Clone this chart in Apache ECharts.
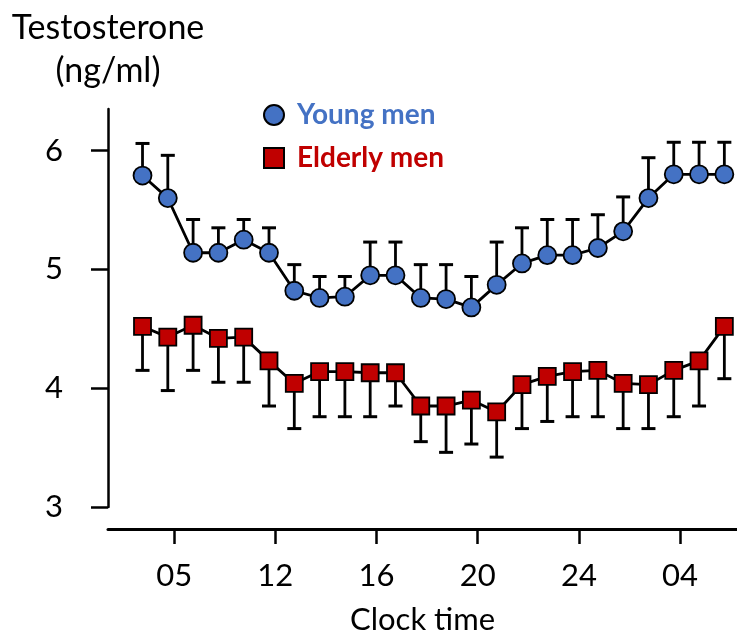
<!DOCTYPE html>
<html>
<head>
<meta charset="utf-8">
<style>
  html, body { margin: 0; padding: 0; background: #fff; }
  .chart { width: 737px; height: 633px; }
</style>
<script src="https://cdn.jsdelivr.net/npm/echarts@6/dist/echarts.min.js"></script>
</head>
<body>
<div class="chart"></div>
<script>
// 数据
var hours = [6.75, 7.75, 8.75, 9.75, 10.75, 11.75, 12.75, 13.75, 14.75, 15.75, 16.75, 17.75,
             18.75, 19.75, 20.75, 21.75, 22.75, 23.75, 24.75, 25.75, 26.75, 27.75, 28.75, 29.75];
var youngMean = [5.79, 5.60, 5.14, 5.14, 5.25, 5.14, 4.82, 4.76, 4.77, 4.95, 4.95, 4.76,
                 4.75, 4.68, 4.87, 5.05, 5.12, 5.12, 5.18, 5.32, 5.60, 5.80, 5.80, 5.80];
var youngUpper = [6.06, 5.96, 5.42, 5.35, 5.42, 5.35, 5.04, 4.94, 4.94, 5.23, 5.23, 5.04,
                  5.04, 4.94, 5.23, 5.35, 5.42, 5.42, 5.46, 5.61, 5.94, 6.07, 6.07, 6.07];
var elderlyMean = [4.52, 4.43, 4.53, 4.42, 4.43, 4.23, 4.04, 4.14, 4.14, 4.13, 4.13, 3.85,
                   3.85, 3.90, 3.80, 4.03, 4.10, 4.14, 4.15, 4.04, 4.03, 4.15, 4.23, 4.52];
var elderlyLower = [4.15, 3.98, 4.15, 4.05, 4.05, 3.85, 3.66, 3.76, 3.76, 3.76, 3.85, 3.55,
                    3.46, 3.53, 3.42, 3.66, 3.72, 3.76, 3.76, 3.66, 3.66, 3.76, 3.85, 4.08];
var xTickValues = [8, 12, 16, 20, 24, 28];
var xTickLabels = ["05", "12", "16", "20", "24", "04"];
var yTickValues = [3, 4, 5, 6];

(function() {
  var myChart = echarts.init(document.querySelector(".chart"));
  var font = "Lato";

  function pairs(xs, ys) {
    return xs.map(function(x, i) { return [x, ys[i]]; });
  }
  function bars(xs, from, to) {
    return xs.map(function(x, i) { return [x, from[i], to[i]]; });
  }

  // 误差线: 竖线 + 端帽
  function renderBar(params, api) {
    var p0 = api.coord([api.value(0), api.value(1)]);
    var p1 = api.coord([api.value(0), api.value(2)]);
    var hw = 7;
    return {
      type: "group",
      children: [
        { type: "line", shape: { x1: p0[0], y1: p0[1], x2: p1[0], y2: p1[1] },
          style: { stroke: "#000", lineWidth: 2.8 } },
        { type: "line", shape: { x1: p1[0] - hw, y1: p1[1], x2: p1[0] + hw, y2: p1[1] },
          style: { stroke: "#000", lineWidth: 3 } }
      ]
    };
  }

  var option = {
    animation: false,
    grid: { left: 108, right: 0, top: 109, bottom: 126, containLabel: false, outerBoundsMode: "none" },
    legend: {
      orient: "vertical",
      left: 258,
      top: 96,
      itemWidth: 20,
      itemHeight: 20,
      itemGap: 15,
      textStyle: { fontFamily: font, fontWeight: "bold", fontSize: 28, padding: [0, 0, 0, 8] },
      data: [
        { name: "Young men", icon: "circle", textStyle: { color: "#4472C4" } },
        { name: "Elderly men", icon: "rect", textStyle: { color: "#C00000" } }
      ]
    },
    xAxis: {
      type: "value",
      min: 5.386,
      max: 30.25,
      offset: 22,
      name: "Clock time",
      nameLocation: "middle",
      nameGap: 75,
      nameTextStyle: { fontFamily: font, fontSize: 31, color: "#000" },
      splitLine: { show: false },
      axisLine: { lineStyle: { color: "#000", width: 3 } },
      axisTick: { customValues: xTickValues, length: 15, lineStyle: { color: "#000", width: 2.5 } },
      axisLabel: {
        customValues: xTickValues,
        margin: 31,
        fontFamily: font,
        fontSize: 31,
        color: "#000",
        formatter: function(v) { return xTickLabels[xTickValues.indexOf(v)]; }
      }
    },
    yAxis: {
      type: "value",
      min: 3,
      max: 6.35,
      name: "Testosterone\n(ng/ml)",
      nameLocation: "end",
      nameGap: 16,
      nameTextStyle: { fontFamily: font, fontSize: 34, color: "#000", align: "center", lineHeight: 43 },
      splitLine: { show: false },
      axisLine: { show: true, lineStyle: { color: "#000", width: 2.5 } },
      axisTick: { show: true, customValues: yTickValues, length: 17, lineStyle: { color: "#000", width: 2.5 } },
      axisLabel: { customValues: yTickValues, margin: 45, fontFamily: font, fontSize: 31, color: "#000" }
    },
    series: [
      {
        type: "custom",
        renderItem: renderBar,
        encode: { x: 0, y: [1, 2] },
        data: bars(hours, youngMean, youngUpper),
        z: 1
      },
      {
        type: "custom",
        renderItem: renderBar,
        encode: { x: 0, y: [1, 2] },
        data: bars(hours, elderlyMean, elderlyLower),
        z: 1
      },
      {
        name: "Young men",
        type: "line",
        symbol: "circle",
        symbolSize: 18,
        lineStyle: { color: "#000", width: 2.8 },
        itemStyle: { color: "#4472C4", borderColor: "#000", borderWidth: 1.8 },
        data: pairs(hours, youngMean),
        z: 3
      },
      {
        name: "Elderly men",
        type: "line",
        symbol: "rect",
        symbolSize: 17,
        lineStyle: { color: "#000", width: 2.8 },
        itemStyle: { color: "#C00000", borderColor: "#000", borderWidth: 1.8 },
        data: pairs(hours, elderlyMean),
        z: 3
      }
    ]
  };

  myChart.setOption(option);
  window.addEventListener("resize", function() {
    myChart.resize();
  });
})();
</script>
</body>
</html>
